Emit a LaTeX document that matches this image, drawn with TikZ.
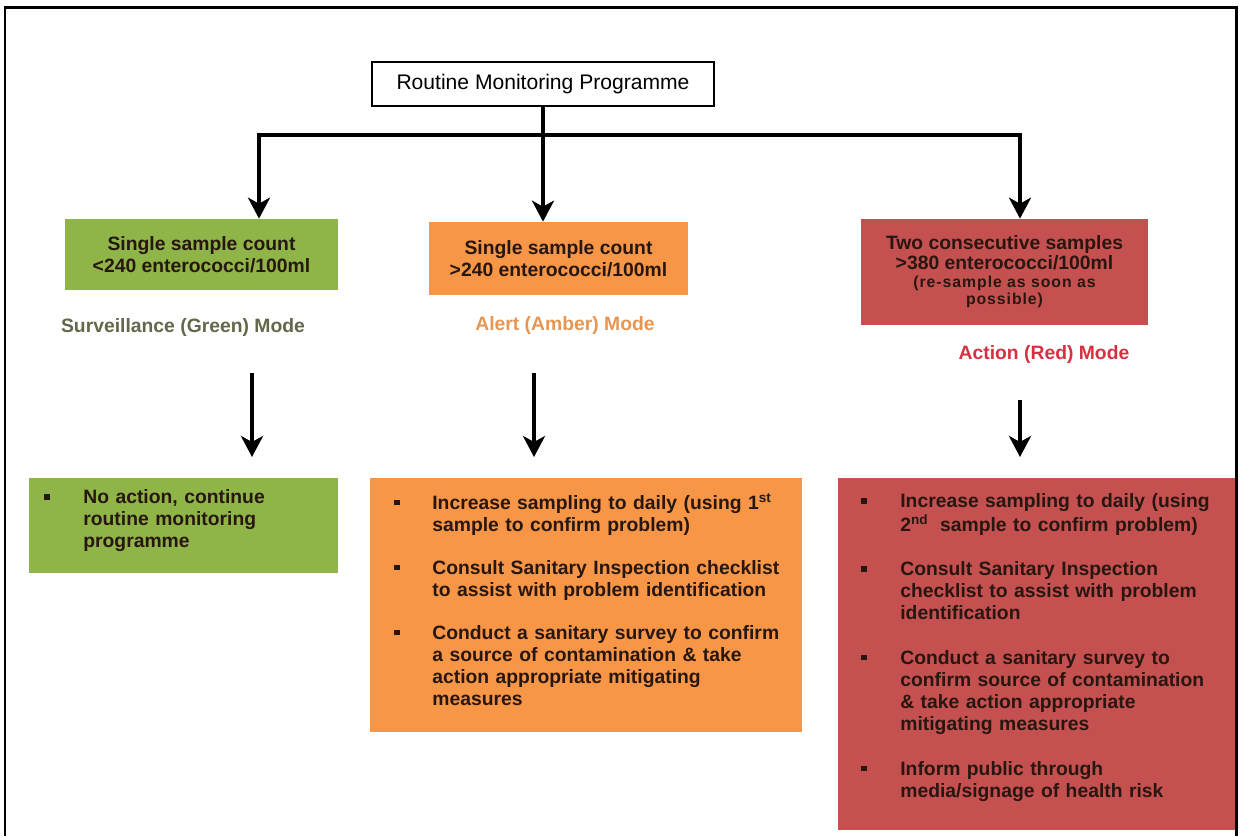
\documentclass[tikz,border=0pt]{standalone}
\usepackage{fontspec}
\setmainfont{Liberation Sans}
\usetikzlibrary{arrows.meta}

\definecolor{grnfill}{RGB}{143,180,72}
\definecolor{ambfill}{RGB}{247,150,70}
\definecolor{redfill}{RGB}{197,80,80}
\definecolor{grntext}{RGB}{98,104,74}
\definecolor{ambtext}{RGB}{230,150,82}
\definecolor{redtext}{RGB}{214,48,66}
\definecolor{boxtext}{RGB}{40,22,16}

\newcommand{\bl}{\rule[0.22em]{0.28em}{0.28em}}
\newcommand{\resamp}[1]{{\fontsize{9}{9.5}\selectfont\addfontfeature{LetterSpace=6}#1}}
\newcommand{\liftup}[2][3.5pt]{\raisebox{#1}[\height][\depth]{#2}}

\begin{document}
\begin{tikzpicture}[
    x=0.02cm, y=-0.02cm,
    count/.style={
      rectangle,
      inner sep=0pt,
      align=center,
      text=boxtext,
      font=\fontsize{11}{12.5}\selectfont\bfseries
    },
    mode/.style={
      font=\fontsize{11}{12.5}\selectfont\bfseries
    },
    act/.style={
      rectangle,
      anchor=north west,
      inner ysep=0pt,
      align=left,
      text=boxtext,
      font=\fontsize{11}{12.5}\selectfont\bfseries
    },
    arr/.style={
      line width=0.08cm,
      -{Stealth[length=0.42cm, width=0.44cm, inset=0.12cm]}
    }
  ]

    \useasboundingbox (0,0) rectangle (1242,836);

    % Page frame
    \draw[line width=0.06cm] (5,836) -- (5,7) -- (1236,7) -- (1236,836);

    % Top box
    \node[draw, line width=0.8pt, minimum width=6.84cm, minimum height=0.88cm,
      font=\fontsize{12}{14}\selectfont] (top) at (543,84) {Routine Monitoring Programme};

    % Count boxes
    \node[count, fill=grnfill, minimum width=5.46cm, minimum height=1.42cm] (grn) at (201.5,254.5)
      {Single sample count\\\textless240 enterococci/100ml};
    \node[count, fill=ambfill, minimum width=5.18cm, minimum height=1.46cm] (amb) at (558.5,258.5)
      {Single sample count\\\textgreater240 enterococci/100ml};
    \node[count, fill=redfill, minimum width=5.74cm, minimum height=2.12cm,
      font=\fontsize{11}{10}\selectfont\bfseries] (red) at (1004.5,272)
      {Two consecutive samples\\\textgreater380 enterococci/100ml\\
       \resamp{(re-sample as soon as}\\\resamp{possible)}};

    % Mode labels
    \node[mode, text=grntext] (glbl) at (183,327) {Surveillance (Green) Mode};
    \node[mode, text=ambtext] (albl) at (565,325) {Alert (Amber) Mode};
    \node[mode, text=redtext] (rlbl) at (1044,354) {Action (Red) Mode};

    % Action boxes
    \node[act, fill=grnfill, minimum width=6.18cm, minimum height=1.9cm,
      inner xsep=0.3cm, text width=5.58cm] (gact) at (29,478) {\noindent\liftup[2.5pt]{%
      \begin{tabular}{@{}p{0.78cm}@{}l@{}}
        \bl & No action, continue\\
            & routine monitoring\\
            & programme
      \end{tabular}}};
    \node[act, fill=ambfill, minimum width=8.64cm, minimum height=5.08cm,
      inner xsep=0.48cm, text width=7.68cm] (aact) at (370,478) {\noindent\liftup[1.5pt]{%
      \begin{tabular}{@{}p{0.76cm}@{}l@{}}
        \bl & Increase sampling to daily (using 1\textsuperscript{st}\\
            & sample to confirm problem)\\[12pt]
        \bl & Consult Sanitary Inspection checklist\\
            & to assist with problem identification\\[12pt]
        \bl & Conduct a sanitary survey to confirm\\
            & a source of contamination \& take\\
            & action appropriate mitigating\\
            & measures
      \end{tabular}}};
    \node[act, fill=redfill, minimum width=7.94cm, minimum height=7.04cm,
      inner xsep=0.46cm, text width=7.02cm] (ract) at (838,478) {\noindent\liftup{%
      \begin{tabular}{@{}p{0.78cm}@{}l@{}}
        \bl & Increase sampling to daily (using\\
            & 2\textsuperscript{nd}\hspace{0.6em}sample to confirm problem)\\[13pt]
        \bl & Consult Sanitary Inspection\\
            & checklist to assist with problem\\
            & identification\\[13pt]
        \bl & Conduct a sanitary survey to\\
            & confirm source of contamination\\
            & \& take action appropriate\\
            & mitigating measures\\[13pt]
        \bl & Inform public through\\
            & media/signage of health risk
      \end{tabular}}};

    % Connectors
    \coordinate (jl) at (259,135);
    \coordinate (jr) at (1020,135);
    \draw[arr] (top.south) -- (top.south |- amb.north);
    \draw[line width=0.08cm, {Stealth[length=0.42cm, width=0.44cm, inset=0.12cm]}-{Stealth[length=0.42cm, width=0.44cm, inset=0.12cm]}]
      (jl |- grn.north) -- (jl) -- (jr) -- (jr |- red.north);

    \coordinate (gs) at (252,373);
    \coordinate (as) at (534,373);
    \coordinate (rs) at (1020,400);
    \draw[arr, shorten >=0.42cm] (gs) -- (gs |- gact.north);
    \draw[arr, shorten >=0.42cm] (as) -- (as |- aact.north);
    \draw[arr, shorten >=0.42cm] (rs) -- (rs |- ract.north);

  \end{tikzpicture}
\end{document}
